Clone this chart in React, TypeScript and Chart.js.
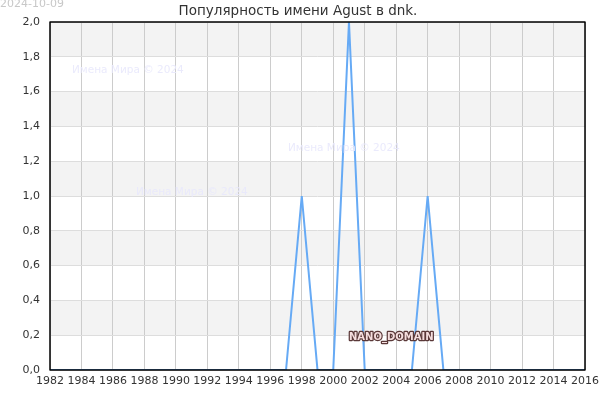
import React, { useEffect, useRef } from "react";
import { Chart, registerables } from "chart.js";

Chart.register(...registerables);

const years: number[] = [
  1982, 1983, 1984, 1985, 1986, 1987, 1988, 1989, 1990, 1991, 1992, 1993,
  1994, 1995, 1996, 1997, 1998, 1999, 2000, 2001, 2002, 2003, 2004, 2005,
  2006, 2007, 2008, 2009, 2010, 2011, 2012, 2013, 2014, 2015, 2016,
];
const counts: number[] = [
  0, 0, 0, 0, 0, 0, 0, 0, 0, 0, 0, 0,
  0, 0, 0, 0, 1, 0, 0, 2, 0, 0, 0, 0,
  1, 0, 0, 0, 0, 0, 0, 0, 0, 0, 0,
];
const titleText = "Популярность имени Agust в dnk.";
const dateText = "2024-10-09";
const watermarkText = "Имена Мира © 2024";
const domainText = "NANO_DOMAIN";

const FONT = "'DejaVu Sans', sans-serif";

const decorPlugin = {
  id: "decor",
  beforeDraw(chart: any) {
    const { ctx, chartArea, scales } = chart;
    const y = scales.y;
    ctx.save();
    ctx.fillStyle = "#f3f3f3";
    for (let v = 0.2; v < 2; v += 0.4) {
      const top = y.getPixelForValue(v + 0.2);
      const bot = y.getPixelForValue(v);
      ctx.fillRect(chartArea.left, top, chartArea.right - chartArea.left, bot - top);
    }
    ctx.restore();
  },
  afterDatasetsDraw(chart: any) {
    const { ctx, chartArea } = chart;
    ctx.save();
    // watermarks
    ctx.font = `10.5px ${FONT}`;
    ctx.fillStyle = "rgba(232,232,252,0.9)";
    ctx.textBaseline = "middle";
    ctx.textAlign = "left";
    ctx.fillText(watermarkText, 72, 70);
    ctx.fillText(watermarkText, 288, 148);
    ctx.fillText(watermarkText, 136, 192);
    // domain label
    ctx.font = `bold 10px ${FONT}`;
    ctx.lineWidth = 2.5;
    ctx.strokeStyle = "#5a3838";
    ctx.lineJoin = "round";
    ctx.strokeText(domainText, 349, 337);
    ctx.fillStyle = "#f5dede";
    ctx.fillText(domainText, 349, 337);
    // border
    ctx.strokeStyle = "#000";
    ctx.lineWidth = 1.5;
    ctx.strokeRect(chartArea.left, chartArea.top, chartArea.right - chartArea.left, chartArea.bottom - chartArea.top);
    // title & date
    ctx.font = `13.5px ${FONT}`;
    ctx.fillStyle = "#333";
    ctx.textAlign = "center";
    ctx.fillText(titleText, 298, 11);
    ctx.font = `11px ${FONT}`;
    ctx.fillStyle = "#c8c8c8";
    ctx.textAlign = "left";
    ctx.fillText(dateText, 0, 4);
    ctx.restore();
  },
};

export default function App() {
  const ref = useRef<HTMLCanvasElement | null>(null);
  useEffect(() => {
    if (!ref.current) return;
    const chart = new Chart(ref.current, {
      type: "line",
      data: {
        datasets: [
          {
            data: years.map((yr, i) => ({ x: yr, y: counts[i] })),
            borderColor: "#66aaf5",
            borderWidth: 2,
            pointRadius: 0,
            tension: 0,
            fill: false,
          },
        ],
      },
      options: {
        animation: false,
        responsive: false,
        devicePixelRatio: 1,
        layout: { padding: { top: 22, right: 15, left: 0, bottom: 0 } },
        plugins: { legend: { display: false }, tooltip: { enabled: false }, title: { display: false } },
        scales: {
          x: {
            type: "linear",
            min: 1982,
            max: 2016,
            ticks: {
              stepSize: 2,
              color: "#333",
              font: { family: FONT, size: 11 },
              padding: 5,
              maxRotation: 0,
              minRotation: 0,
              autoSkip: false,
              callback: (v: any) => String(v),
            },
            grid: { color: "#cccccc", drawTicks: false, lineWidth: 1 },
            border: { display: false },
            afterFit: (s: any) => {
              s.height = 30;
              s.paddingLeft = 0;
              s.paddingRight = 0;
            },
          },
          y: {
            min: 0,
            max: 2,
            ticks: {
              stepSize: 0.2,
              color: "#333",
              font: { family: FONT, size: 11 },
              padding: 10,
              callback: (v: any) => Number(v).toFixed(1).replace(".", ","),
            },
            grid: { color: "#dddddd", drawTicks: false, lineWidth: 1 },
            border: { display: false },
            afterFit: (s: any) => {
              s.width = 50;
              s.paddingTop = 0;
              s.paddingBottom = 0;
            },
          },
        },
      },
      plugins: [decorPlugin],
    });
    return () => chart.destroy();
  }, []);
  return (
    <div style={{ position: "fixed", left: 0, top: 0, width: 600, height: 400, background: "#fff" }}>
      <canvas ref={ref} width={600} height={400} style={{ width: 600, height: 400 }} />
    </div>
  );
}
